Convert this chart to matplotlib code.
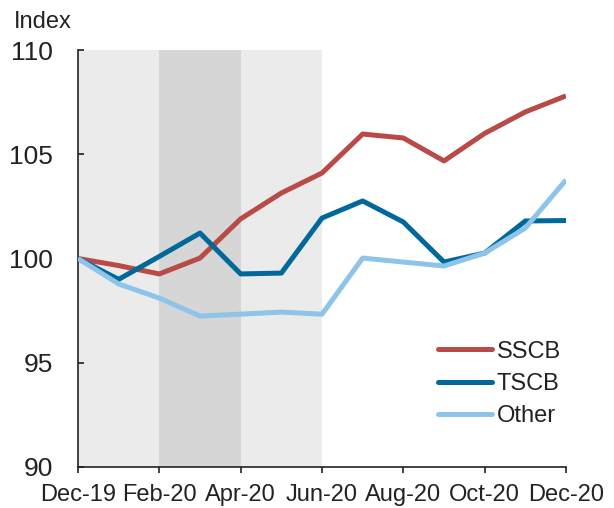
import matplotlib
matplotlib.use("Agg")
import matplotlib.pyplot as plt
import numpy as np

months = ["Dec-19", "Jan-20", "Feb-20", "Mar-20", "Apr-20", "May-20", "Jun-20",
          "Jul-20", "Aug-20", "Sep-20", "Oct-20", "Nov-20", "Dec-20"]
sscb = [100.0, 99.66, 99.26, 100.02, 101.9, 103.14, 104.1, 105.97, 105.78, 104.68, 106.0, 107.03, 107.8]
tscb = [100.0, 99.0, 100.1, 101.22, 99.26, 99.3, 101.94, 102.76, 101.75, 99.83, 100.26, 101.8, 101.82]
other = [100.0, 98.78, 98.1, 97.24, 97.33, 97.43, 97.33, 100.02, 99.83, 99.64, 100.26, 101.46, 103.77]
tick_labels = ["Dec-19", "Feb-20", "Apr-20", "Jun-20", "Aug-20", "Oct-20", "Dec-20"]
y_ticks = [90, 95, 100, 105, 110]

plt.rcParams['font.family'] = ['Liberation Sans', 'DejaVu Sans']

fig = plt.figure(figsize=(6.14, 5.08), dpi=100)
ax = fig.add_axes([78/614, 1-467/508, (566-78)/614, (467-50)/508])

x = np.arange(len(months))
ax.axvspan(0, 6, color="#EBEBEB", lw=0, zorder=0)
ax.axvspan(2, 4, color="#D6D6D6", lw=0, zorder=0)

ax.plot(x, sscb, color="#B84A48", lw=3.6, label="SSCB", zorder=3, solid_capstyle='butt')
ax.plot(x, tscb, color="#00689B", lw=3.6, label="TSCB", zorder=3, solid_capstyle='butt')
ax.plot(x, other, color="#8EC3EA", lw=3.6, label="Other", zorder=3, solid_capstyle='butt')

ax.set_xlim(0, 12)
ax.set_ylim(90, 110)
ax.set_xticks(x[::2])
ax.set_xticklabels(tick_labels, fontsize=17)
ax.set_yticks(y_ticks)
ax.set_yticklabels([str(v) for v in y_ticks], fontsize=19)
ax.tick_params(axis='y', direction='in', length=4.5, width=1.2, colors='#222222', pad=18)
ax.tick_params(axis='x', direction='out', length=4, width=1.2, colors='#222222', pad=8)
for lab in ax.get_xticklabels() + ax.get_yticklabels():
    lab.set_color('#222222')
for s in ['top', 'right']:
    ax.spines[s].set_visible(False)
for s in ['left', 'bottom']:
    ax.spines[s].set_linewidth(1.2)
    ax.spines[s].set_color('#222222')

fig.text(14/614, 1-28/508, "Index", fontsize=17, color='#222222', ha='left', va='baseline')

leg = ax.legend(loc='lower left', bbox_to_anchor=(0.738, 0.096), frameon=False, fontsize=17,
                handlelength=2.3, handletextpad=0.17, labelspacing=0.43, borderpad=0,
                borderaxespad=0)
for t in leg.get_texts():
    t.set_color('#222222')
for h in leg.get_lines():
    h.set_solid_capstyle('round')

fig.savefig("out.png", dpi=100)
